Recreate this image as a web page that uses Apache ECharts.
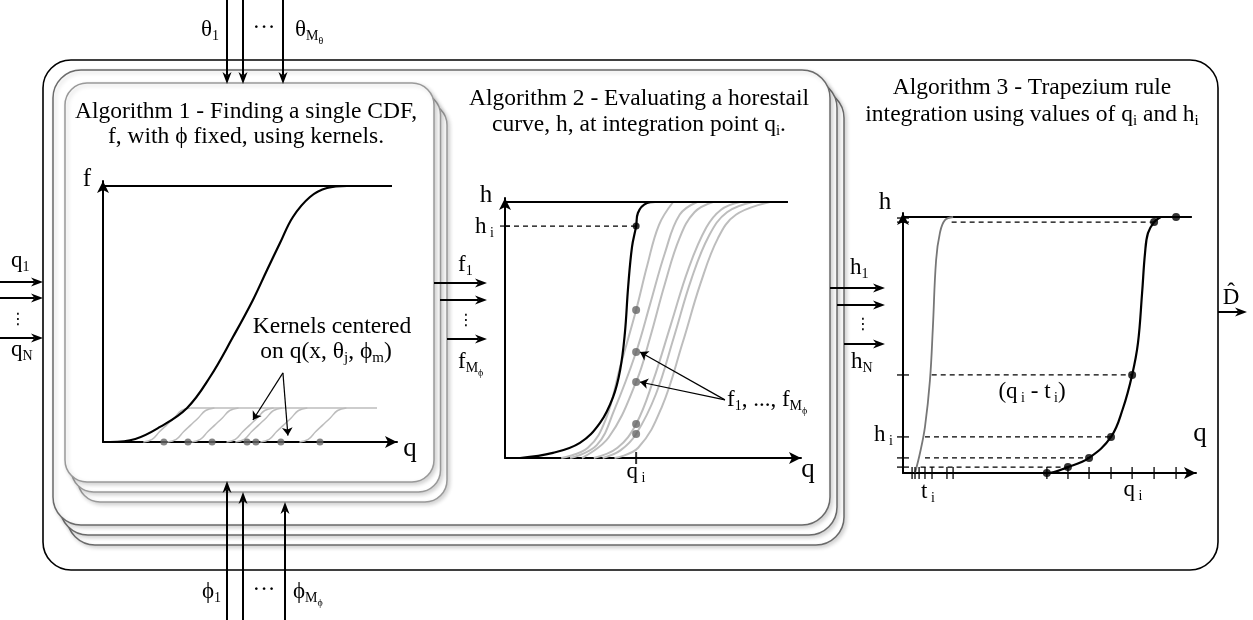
<!DOCTYPE html>
<html><head><meta charset="utf-8">
<script src="https://cdn.jsdelivr.net/npm/echarts@6/dist/echarts.min.js"></script>
<style>html,body{margin:0;padding:0;background:#fff}#c{width:1253px;height:620px}</style>
</head><body><div id="c"></div>
<script>
// ================= DATA =================
// Panel 1 (Algorithm 1): x = q (0..100 along axis), y = f (0..1)
const cdfF = [[2.4,0],[11,0.012],[19.4,0.059],[28.6,0.133],[36.4,0.254],[44.2,0.41],[51,0.555],[55.8,0.672],[60.2,0.777],[64.6,0.879],[70.4,0.957],[76.2,0.992],[83,1]];
const fTopLine = [[0,1],[98.3,1]];
const kernelCentres = [20.7, 28.9, 37.1, 49, 52, 60.5, 73.8];
const kernel1 = [[13.7,0],[16.7,0.01],[19.2,0.04],[21.7,0.067],[24.2,0.094],[26.7,0.123],[29.7,0.133]];
const kernel2 = [[21.9,0],[24.9,0.01],[27.4,0.04],[29.9,0.067],[32.4,0.094],[34.9,0.123],[37.9,0.133]];
const kernel3 = [[30.1,0],[33.1,0.01],[35.6,0.04],[38.1,0.067],[40.6,0.094],[43.1,0.123],[46.1,0.133]];
const kernel4 = [[42,0],[45,0.01],[47.5,0.04],[50,0.067],[52.5,0.094],[55,0.123],[58,0.133]];
const kernel5 = [[45,0],[48,0.01],[50.5,0.04],[53,0.067],[55.5,0.094],[58,0.123],[61,0.133]];
const kernel6 = [[53.5,0],[56.5,0.01],[59,0.04],[61.5,0.067],[64,0.094],[66.5,0.123],[69.5,0.133]];
const kernel7 = [[66.8,0],[69.8,0.01],[72.3,0.04],[74.8,0.067],[77.3,0.094],[79.8,0.123],[82.8,0.133]];
const kernelTop = [[29.7,0.133],[93.2,0.133]];
const kernelNote = {from:[61.2,0.27], to:[[51,0.086],[62.9,0.025]]};

// Panel 2 (Algorithm 2): x = q, y = h
const hCurve = [[5.1,0],[16.2,0.02],[25.3,0.059],[32.1,0.137],[36.5,0.238],[38.9,0.344],[40.5,0.488],[41.6,0.668],[42.9,0.824],[44.3,0.906],[44.9,0.957],[48,0.996],[50.7,1]];
const hTopLine = [[0,1],[95.6,1]];
const qi2 = 44.3, hi2 = 0.906;
const fAtQi = [0.578, 0.414, 0.297, 0.133, 0.094];
const fCurve1 = [[19,0],[28,0.04],[34,0.15],[39,0.36],[44.3,0.578],[48,0.75],[52,0.91],[56.8,1]];
const fCurve2 = [[22,0],[31,0.05],[37,0.19],[44.3,0.414],[49,0.6],[54,0.8],[59,0.95],[64.9,1]];
const fCurve3 = [[26,0],[35,0.08],[44.3,0.297],[49,0.47],[54,0.68],[59,0.86],[64,0.96],[70.3,1]];
const fCurve4 = [[30,0],[38,0.04],[44.3,0.133],[50,0.3],[56,0.52],[62,0.74],[68,0.9],[73,0.97],[79.4,1]];
const fCurve5 = [[33,0],[39,0.03],[44.3,0.094],[51,0.25],[57,0.47],[63,0.7],[69,0.87],[75,0.96],[83.8,1]];
const fCurve6 = [[37,0],[45,0.04],[53,0.2],[60,0.45],[66,0.68],[72,0.86],[78,0.95],[89.5,1]];
const fNote = {from:[74.3,0.227], to:[[45.6,0.414],[45.6,0.297]]};

// Panel 3 (Algorithm 3): x = q, y = h
const hStep = [[44.4,0],[49.1,0],[56.3,0.023],[63.5,0.059],[71,0.141],[75,0.25],[78.2,0.383],[80.2,0.508],[81.6,0.703],[82.6,0.859],[83.6,0.937],[85.7,0.98],[88,1]];
const hTop3 = [[0,1],[98.6,1]];
const qiPoints = [[49.1,0],[56.3,0.023],[63.5,0.059],[71,0.141],[78.2,0.383],[85.7,0.98],[93.2,1]];
const tCurve = [[4.1,0],[5.8,0.078],[7.5,0.18],[9.2,0.363],[10.2,0.57],[11.3,0.832],[12.6,0.938],[14.3,0.988],[17.1,1]];
const trapRows = [[6,0.023,56.3],[7.5,0.059,63.5],[7.5,0.141,71],[9.8,0.383,78.2],[16.6,0.98,85.7]];
const qTicks3 = [49.1, 56.3, 63.5, 71, 78.2, 85.7, 93.2];
const tTicks3 = [3.1, 4.1, 5.5, 7.5, 9.9, 15, 17.1];
const hTicks3 = [0.023, 0.059, 0.141, 0.383, 0.98, 0.996];

// ================= CHART =================
const F = '"Liberation Serif", "DejaVu Serif", serif';
const chart = echarts.init(document.getElementById('c'), null, {renderer:'canvas'});

function rich(sz) {
  return {
    m: {fontSize: sz, fontFamily: F, fill: '#000'},
    t: {fontSize: sz, fontFamily: F, fill: '#000'},
    s: {fontSize: Math.round(sz*0.62), fontFamily: F, fill: '#000', padding: [Math.round(sz*0.55),0,0,0]},
    ss: {fontSize: Math.round(sz*0.45), fontFamily: F, fill: '#000', padding: [Math.round(sz*0.98),0,0,0]},
    v: {fontSize: Math.round(sz*0.8), fontFamily: '"DejaVu Sans", sans-serif', fill: '#000'}
  };
}
function txt(x, y, text, sz, align) {
  align = align || 'center';
  return {type:'text', x:x, y:y, z:30, silent:true,
    style:{text:text, rich:rich(sz||23), align:align, textAlign:align, verticalAlign:'middle', textVerticalAlign:'middle', fill:'#000', font: (sz||23)+'px '+F}};
}
function arrow(x1, y1, x2, y2) {
  const L = 12, H = 4.5, N = 3.5;
  const dx = x2-x1, dy = y2-y1, len = Math.hypot(dx, dy), ux = dx/len, uy = dy/len, px = -uy, py = ux;
  const bx = x2-ux*L, by = y2-uy*L, nx = x2-ux*(L-N), ny = y2-uy*(L-N);
  return [
    {type:'line', z:25, silent:true, shape:{x1:x1,y1:y1,x2:nx,y2:ny}, style:{stroke:'#000', lineWidth:2}},
    {type:'polygon', z:26, silent:true, shape:{points:[[x2,y2],[bx+px*H,by+py*H],[nx,ny],[bx-px*H,by-py*H]]}, style:{fill:'#000'}}
  ];
}
function box(x, y, w, h, r, stroke, z, shadow) {
  return {type:'rect', z:z, silent:true, shape:{x:x,y:y,width:w,height:h,r:r},
    style:{fill:'#fff', stroke:stroke, lineWidth:1.5,
      shadowBlur: shadow?4:0, shadowColor:'rgba(0,0,0,0.18)', shadowOffsetX: shadow?2:0, shadowOffsetY: shadow?2:0}};
}

const graphics = [];
graphics.push({type:'rect', z:1, silent:true, shape:{x:43,y:60,width:1175,height:510,r:28}, style:{fill:'#fff', stroke:'#000', lineWidth:1.6}});
graphics.push(box(67,90,777,455,28,'#6a6a6a',2,true));
graphics.push(box(60,80,777,455,28,'#6a6a6a',3,true));
graphics.push(box(53,70,777,455,28,'#6a6a6a',4,true));
graphics.push(box(78,103,369,399,22,'#999',5,true));
graphics.push(box(71.5,93,369,399,22,'#999',6,true));
graphics.push(box(65,83,369,399,22,'#999',7,true));

[[227,0,227,84],[243,0,243,84],[283,0,283,84]].forEach(a => graphics.push(...arrow(...a)));
[[227,620,227,481],[243,620,243,492],[285,620,285,502]].forEach(a => graphics.push(...arrow(...a)));
[[0,282,43,282],[0,298,43,298],[0,338,43,338]].forEach(a => graphics.push(...arrow(...a)));
[[434,283,487,283],[440,300,487,300],[447,339,487,339]].forEach(a => graphics.push(...arrow(...a)));
[[830,288,885,288],[837,305,885,305],[844,344,885,344]].forEach(a => graphics.push(...arrow(...a)));
graphics.push(...arrow(1218,312,1247,312));

graphics.push(txt(219,30,'{m|θ}{s|1}',23,'right'));
graphics.push(txt(264,28,'{m|···}',23,'center'));
graphics.push(txt(295,30,'{m|θ}{s|M}{ss|θ}',23,'left'));
graphics.push(txt(221,592,'{m|ϕ}{s|1}',23,'right'));
graphics.push(txt(264,590,'{m|···}',23,'center'));
graphics.push(txt(293,592,'{m|ϕ}{s|M}{ss|ϕ}',23,'left'));
graphics.push(txt(11,261,'{m|q}{s|1}',23,'left'));
graphics.push(txt(18,320,'{v|⋮}',20,'center'));
graphics.push(txt(11,350,'{m|q}{s|N}',23,'left'));
graphics.push(txt(458,265,'{m|f}{s|1}',23,'left'));
graphics.push(txt(466,321,'{v|⋮}',20,'center'));
graphics.push(txt(458,362,'{m|f}{s|M}{ss|ϕ}',23,'left'));
graphics.push(txt(850,268,'{m|h}{s|1}',23,'left'));
graphics.push(txt(863,325,'{v|⋮}',20,'center'));
graphics.push(txt(851,362,'{m|h}{s|N}',23,'left'));
graphics.push(txt(1231,298,'{m|D}',23,'center'));
graphics.push(txt(1231,293,'{m|ˆ}',23,'center'));

graphics.push(txt(246,112,'{t|Algorithm 1 - Finding a single CDF,}',23.5));
graphics.push(txt(246,137,'{t|f, with ϕ fixed, using kernels.}',23.5));
graphics.push(txt(639,99,'{t|Algorithm 2 - Evaluating a horestail}',23.5));
graphics.push(txt(639,125,'{t|curve, h, at integration point q}{s|i}{t|.}',23.5));
graphics.push(txt(1032,88,'{t|Algorithm 3 - Trapezium rule}',23.5));
graphics.push(txt(1032,115,'{t|integration using values of q}{s|i}{t| and h}{s|i}',23.5));

graphics.push(txt(87,179,'{m|f}',25));
graphics.push(txt(410,449,'{m|q}',27));
graphics.push(txt(332,327,'{t|Kernels centered}',23.5));
graphics.push(txt(326,352,'{t|on q(x, θ}{s|j}{t|, ϕ}{s|m}{t|)}',23.5));
graphics.push(txt(486,195,'{m|h}',25));
graphics.push(txt(494,227,'{m|h}{s| i}',23,'right'));
graphics.push(txt(636,472,'{m|q}{s| i}',23));
graphics.push(txt(808,470,'{m|q}',27));
graphics.push(txt(727,400,'{t|f}{s|1}{t|, ..., f}{s|M}{ss|ϕ}',23,'left'));
graphics.push(txt(885,202,'{m|h}',25));
graphics.push(txt(893,435,'{m|h}{s| i}',23,'right'));
graphics.push(txt(1200,434,'{m|q}',27));
graphics.push(txt(928,492,'{m|t}{s| i}',23));
graphics.push(txt(1133,490,'{m|q}{s| i}',23));
graphics.push(txt(1032,392,'{t|(q}{s| i}{t| - t}{s| i}{t|)}',23));

const grids = [
  {left:103, top:181, width:294, height:261},
  {left:505, top:198, width:296, height:260},
  {left:903, top:213, width:293, height:260}
];
const yMax = [261/256, 260/256, 260/256];
function axis(kind, i, max) {
  return {type:'value', gridIndex:i, min:0, max:max, z:10,
    axisLine:{show:true, onZero:false, symbol:['none','arrow'], symbolSize:[9,12], lineStyle:{color:'#000', width:2}},
    axisTick:{show:false}, axisLabel:{show:false}, splitLine:{show:false}};
}
const base = {animation:false, silent:true, clip:false, z:12};
function curve(i, data, color, width, extra) {
  return Object.assign({}, base, {type:'line', xAxisIndex:i, yAxisIndex:i, data:data, showSymbol:false, symbol:'none',
    smooth:0.4, lineStyle:{color:color, width:width}}, extra||{});
}
function straight(i, data, color, width, type, z) {
  return Object.assign({}, base, {type:'line', xAxisIndex:i, yAxisIndex:i, data:data, showSymbol:false, symbol:'none',
    smooth:false, lineStyle:{color:color, width:width, type:type||'solid'}, z:z||12});
}
function dots(i, data, color, size, symbol, z) {
  return Object.assign({}, base, {type:'scatter', xAxisIndex:i, yAxisIndex:i, data:data, symbol:symbol||'circle',
    symbolSize:size, itemStyle:{color:color}, z:z||15});
}
function notes(i, note) {
  return Object.assign({}, base, {type:'lines', coordinateSystem:'cartesian2d', xAxisIndex:i, yAxisIndex:i,
    data: note.to.map(t => ({coords:[note.from, t]})), symbol:['none','arrow'], symbolSize:8,
    lineStyle:{color:'#000', width:1.2, opacity:1, curveness:0}, z:16});
}

const series = [];
[kernel1,kernel2,kernel3,kernel4,kernel5,kernel6,kernel7].forEach(k => series.push(curve(0,k,'#bdbdbd',1.5)));
series.push(straight(0,kernelTop,'#bdbdbd',1.5));
series.push(straight(0,fTopLine,'#000',2));
series.push(curve(0,cdfF,'#000',2.2,{z:13}));
series.push(dots(0,kernelCentres.map(x => [x,0]),'#666',7));
series.push(notes(0,kernelNote));
[fCurve1,fCurve2,fCurve3,fCurve4,fCurve5,fCurve6].forEach(k => series.push(curve(1,k,'#bdbdbd',2)));
series.push(straight(1,hTopLine,'#000',2));
series.push(curve(1,hCurve,'#000',2.2,{z:13}));
series.push(straight(1,[[0,hi2],[qi2,hi2]],'#000',1.2,[5,4]));
series.push(dots(1,fAtQi.map(v => [qi2,v]),'#666',8));
series.push(dots(1,[[qi2,hi2]],'#000',7));
series.push(dots(1,[[qi2,0]],'#000',[2,12],'rect'));
series.push(dots(1,[[0,hi2]],'#000',[10,1.5],'rect'));
series.push(notes(1,fNote));
series.push(straight(2,hTop3,'#000',2));
series.push(curve(2,tCurve,'#777',1.8));
series.push(curve(2,hStep,'#000',2.2,{z:13}));
trapRows.forEach(r => series.push(straight(2,[[r[0],r[1]],[r[2],r[1]]],'#000',1.2,[5,4])));
series.push(dots(2,qTicks3.map(x => [x,0]),'#000',[1.6,12],'rect'));
series.push(dots(2,tTicks3.map(x => [x,0]),'#000',[1.6,12],'rect'));
series.push(dots(2,hTicks3.map(v => [0,v]),'#000',[12,1.6],'rect'));
series.push(dots(2,qiPoints,'#000',8));

chart.setOption({
  animation:false,
  backgroundColor:'#fff',
  textStyle:{fontFamily:F},
  grid: grids,
  xAxis: [axis('x',0,100), axis('x',1,100), axis('x',2,100)],
  yAxis: [axis('y',0,yMax[0]), axis('y',1,yMax[1]), axis('y',2,yMax[2])],
  graphic: {elements: graphics},
  series: series
});
</script></body></html>
